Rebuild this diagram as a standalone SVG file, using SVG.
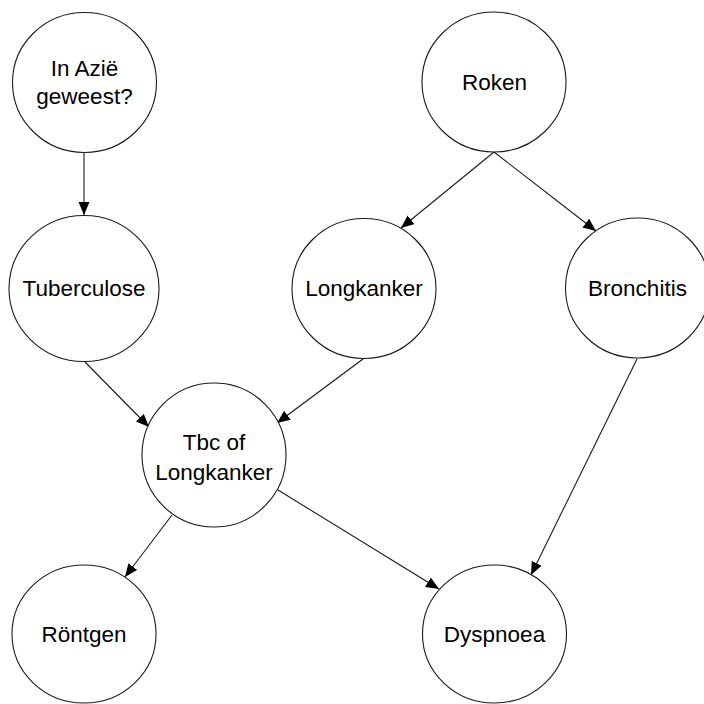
<svg xmlns="http://www.w3.org/2000/svg" width="704" height="704" viewBox="0 0 704 704">
  <style>
    .node ellipse { fill: #ffffff; stroke: #1a1a1a; stroke-width: 1.1; }
    .node text { font-family: "Liberation Sans", Arial, sans-serif; font-size: 22.5px; fill: #000000; text-anchor: middle; }
    .edges line { stroke: #1a1a1a; stroke-width: 1.1; marker-end: url(#arrow); }
  </style>
  <defs>
    <marker id="arrow" markerUnits="userSpaceOnUse" markerWidth="14" markerHeight="12" refX="13" refY="5.5" orient="auto">
      <path d="M0,0 L13,5.5 L0,11 z" fill="#000000"/>
    </marker>
  </defs>
  <rect width="704" height="704" fill="#ffffff"/>

  <g class="edges" id="connectors">
    <line x1="84" y1="152" x2="84" y2="215"/>
    <line x1="494" y1="152" x2="401" y2="228"/>
    <line x1="494" y1="152" x2="596" y2="231"/>
    <line x1="85" y1="362" x2="149" y2="427"/>
    <line x1="363" y1="359" x2="277" y2="423"/>
    <line x1="637" y1="359" x2="531" y2="575"/>
    <line x1="172" y1="515" x2="125" y2="577"/>
    <line x1="278" y1="490" x2="439" y2="589"/>
  </g>

  <g class="node" id="azie">
    <ellipse cx="84.5" cy="82.5" rx="72" ry="70"/>
    <text x="84.5" y="76">In Azië</text>
    <text x="84.5" y="104">geweest?</text>
  </g>
  <g class="node" id="roken">
    <ellipse cx="494" cy="82" rx="72" ry="70"/>
    <text x="494.5" y="89.5">Roken</text>
  </g>
  <g class="node" id="tuberculose">
    <ellipse cx="84" cy="288.5" rx="75" ry="73"/>
    <text x="84" y="296">Tuberculose</text>
  </g>
  <g class="node" id="longkanker">
    <ellipse cx="364" cy="288.5" rx="72" ry="70"/>
    <text x="364" y="296">Longkanker</text>
  </g>
  <g class="node" id="bronchitis">
    <ellipse cx="637.5" cy="288" rx="72" ry="70"/>
    <text x="637.5" y="296">Bronchitis</text>
  </g>
  <g class="node" id="tbc-of-longkanker">
    <ellipse cx="214" cy="455" rx="72" ry="72"/>
    <text x="214" y="449.5">Tbc of</text>
    <text x="214" y="479.5">Longkanker</text>
  </g>
  <g class="node" id="rontgen">
    <ellipse cx="84" cy="634" rx="72" ry="69"/>
    <text x="84" y="641.5">Röntgen</text>
  </g>
  <g class="node" id="dyspnoea">
    <ellipse cx="494.5" cy="634" rx="72" ry="69"/>
    <text x="494.5" y="641.5">Dyspnoea</text>
  </g>
</svg>
